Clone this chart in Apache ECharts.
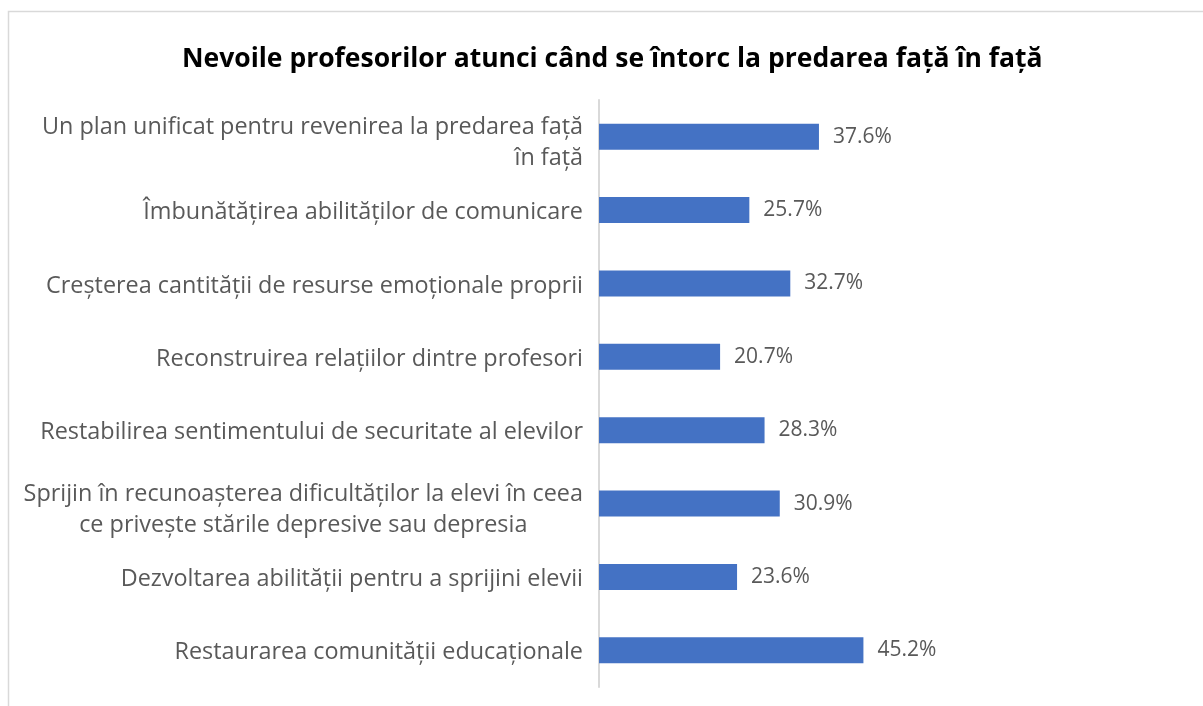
<!DOCTYPE html>
<html><head><meta charset="utf-8">
<script src="https://cdn.jsdelivr.net/npm/echarts@6/dist/echarts.min.js"></script>
<style>html,body{margin:0;padding:0;background:#fff}#c{width:1203px;height:706px}</style>
</head><body><div id="c"></div>
<script>
const titleText = 'Nevoile profesorilor atunci când se întorc la predarea față în față';
const categories = [
  'Un plan unificat pentru revenirea la predarea față\nîn față',
  'Îmbunătățirea abilităților de comunicare',
  'Creșterea cantității de resurse emoționale proprii',
  'Reconstruirea relațiilor dintre profesori',
  'Restabilirea sentimentului de securitate al elevilor',
  'Sprijin în recunoașterea dificultăților la elevi în ceea\nce privește stările depresive sau depresia',
  'Dezvoltarea abilității pentru a sprijini elevii',
  'Restaurarea comunității educaționale'
];
const centeredLabels = [5];
const values = [37.6, 25.7, 32.7, 20.7, 28.3, 30.9, 23.6, 45.2];

const chart = echarts.init(document.getElementById('c'));
const font = '"Open Sans", "Noto Sans", sans-serif';
const catData = categories.map(c => ({
  value: c,
  textStyle: {padding: [c.indexOf('\n') >= 0 ? 12 : 5, 0, 0, 0]}
}));
chart.setOption({
  animation: false,
  backgroundColor: '#fff',
  graphic: [{
    type: 'rect', shape: {x: 8.5, y: 11.5, width: 1300, height: 800},
    style: {fill: 'none', stroke: '#d9d9d9', lineWidth: 1.5}, silent: true
  }],
  title: {
    text: titleText, left: 177, top: 41,
    textStyle: {fontFamily: font, fontSize: 26.5, fontWeight: 'bold', color: '#000'}
  },
  grid: {left: 599, right: 19, top: 100, bottom: 19, containLabel: false},
  xAxis: {type: 'value', min: 0, max: 100, show: false, splitLine: {show: false}},
  yAxis: {
    type: 'category', data: catData, inverse: true,
    axisLine: {show: true, lineStyle: {color: '#d9d9d9', width: 2}},
    axisTick: {show: false},
    axisLabel: {
      margin: 16, fontFamily: font, fontSize: 23.4, color: '#595959', lineHeight: 31, align: 'right',
      formatter: function (v, i) {
        if (centeredLabels.indexOf(i) >= 0) {
          return v.split('\n').map(s => '{c|' + s + '}').join('\n');
        }
        return v;
      },
      rich: {c: {align: 'center', fontFamily: font, fontSize: 23.4, color: '#595959', lineHeight: 31}}
    }
  },
  series: [{
    type: 'bar', data: values, barWidth: 26,
    itemStyle: {color: '#4472c4'},
    label: {show: true, position: 'right', distance: 14, fontFamily: font, fontSize: 21, color: '#595959',
      formatter: p => p.value.toFixed(1) + '%'}
  }]
});
</script></body></html>
